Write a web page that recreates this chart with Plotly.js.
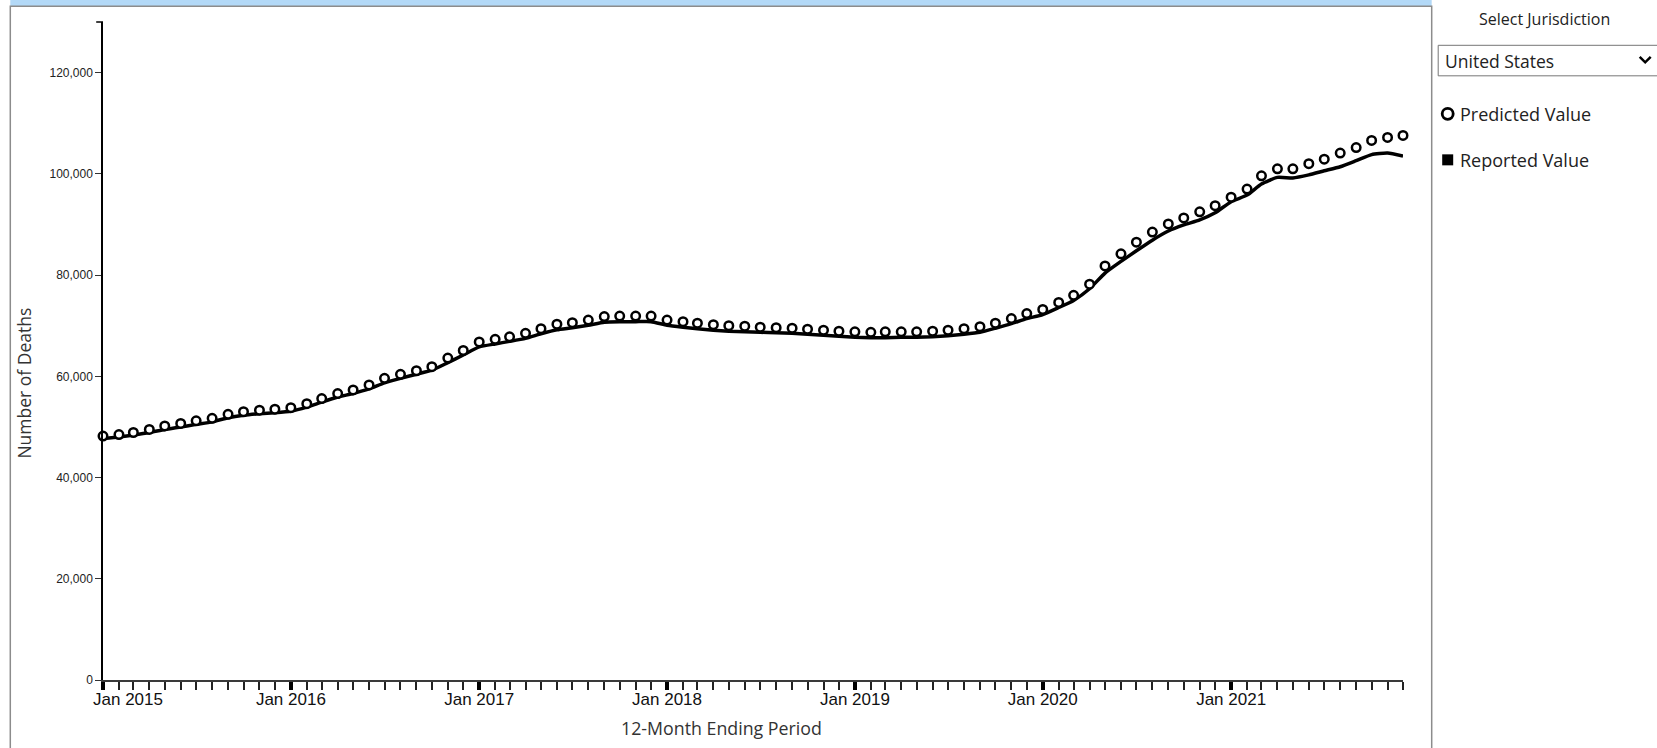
<!DOCTYPE html>
<html>
<head>
<meta charset="utf-8">
<script src="https://cdn.plot.ly/plotly-3.0.1.min.js"></script>
<style>
html,body{margin:0;padding:0;background:#fff;}
#chart{width:1657px;height:748px;}
</style>
</head>
<body>
<div id="chart"></div>
<script>
// 12-month ending periods (Jan 2015 - Dec 2021)
const periods = [
 '2015-01','2015-02','2015-03','2015-04','2015-05','2015-06','2015-07','2015-08','2015-09','2015-10','2015-11','2015-12',
 '2016-01','2016-02','2016-03','2016-04','2016-05','2016-06','2016-07','2016-08','2016-09','2016-10','2016-11','2016-12',
 '2017-01','2017-02','2017-03','2017-04','2017-05','2017-06','2017-07','2017-08','2017-09','2017-10','2017-11','2017-12',
 '2018-01','2018-02','2018-03','2018-04','2018-05','2018-06','2018-07','2018-08','2018-09','2018-10','2018-11','2018-12',
 '2019-01','2019-02','2019-03','2019-04','2019-05','2019-06','2019-07','2019-08','2019-09','2019-10','2019-11','2019-12',
 '2020-01','2020-02','2020-03','2020-04','2020-05','2020-06','2020-07','2020-08','2020-09','2020-10','2020-11','2020-12',
 '2021-01','2021-02','2021-03','2021-04','2021-05','2021-06','2021-07','2021-08','2021-09','2021-10','2021-11','2021-12'
];
// Predicted value (open circles)
const predicted = [
 48200,48500,48900,49500,50200,50700,51200,51700,52500,53000,53300,53500,
 53800,54600,55600,56600,57300,58300,59600,60400,61100,61900,63600,65100,
 66800,67300,67800,68500,69400,70300,70600,71100,71800,71900,71900,71900,
 71100,70800,70500,70200,70000,69900,69700,69600,69500,69300,69100,68900,
 68800,68700,68800,68800,68800,68900,69100,69400,69800,70500,71400,72400,
 73200,74600,76000,78200,81800,84200,86500,88500,90100,91300,92500,93700,
 95400,97000,99600,101000,101000,102000,102900,104100,105200,106600,107200,107600
];
// Reported value (line)
const reported = [
 47700,48000,48400,48900,49500,50000,50500,51000,51800,52300,52600,52800,
 53100,53900,54900,55900,56600,57500,58700,59600,60400,61200,62700,64200,
 65800,66400,66900,67500,68400,69200,69600,70100,70700,70800,70800,70800,
 70100,69700,69400,69100,68900,68800,68700,68600,68500,68300,68100,67900,
 67700,67600,67600,67700,67700,67800,68000,68300,68700,69500,70400,71400,
 72200,73600,75000,77300,80400,82700,84800,86900,88700,89900,90900,92300,
 94500,95800,98000,99300,99200,99800,100600,101400,102600,103800,104100,103500
];
// x tick positions and labels (first label is drawn shifted right, as in the original)
const yearTicks  = ['2015-01','2016-01','2017-01','2018-01','2019-01','2020-01','2021-01'];
const yearLabels = ['Jan 2015','Jan 2016','Jan 2017','Jan 2018','Jan 2019','Jan 2020','Jan 2021'];
const yTicks = [0,20000,40000,60000,80000,100000,120000];
const jurisdiction = 'United States';
const legendLabels = ['Predicted Value','Reported Value'];

// pixel -> paper helpers (plot area: x 103.3..1403.3, y 22.2..680)
const L=103.3, R=1403.3, T=22.2, B=680;
const px = x => (x-L)/(R-L);
const py = y => (B-y)/(B-T);

const font = 'Open Sans, sans-serif';
const tickFont = {family:'Liberation Sans, Arial, sans-serif', size:17, color:'#111'};

const traces = [
 {x: periods, y: reported, type:'scatter', mode:'lines', name: legendLabels[1],
  line:{color:'#000', width:3.5, shape:'spline', smoothing:0.5}, cliponaxis:false, hoverinfo:'x+y'},
 {x: periods, y: predicted, type:'scatter', mode:'markers', name: legendLabels[0],
  marker:{symbol:'circle', size:8.5, color:'#fff', line:{color:'#000', width:2.5}}, cliponaxis:false}
];

const layout = {
 width:1657, height:748,
 margin:{l:L, r:1657-R, t:T, b:748-B, pad:0},
 paper_bgcolor:'#fff', plot_bgcolor:'#fff',
 showlegend:false,
 font:{family:font, color:'#222'},
 xaxis:{
  type:'date', range:['2015-01-01','2021-12-01'],
  showgrid:false, zeroline:false,
  showline:true, linecolor:'#3a3a3a', linewidth:2,
  ticks:'outside', ticklen:8, tickwidth:4, tickcolor:'#000',
  tickmode:'array', tickvals:yearTicks, ticktext:[''].concat(yearLabels.slice(1)),
  tickfont:tickFont, ticklabelstandoff:-5,
  minor:{dtick:'M1', tick0:'2015-01-01', ticks:'outside', ticklen:8, tickwidth:1.5, tickcolor:'#222', showgrid:false},
  fixedrange:true
 },
 yaxis:{
  range:[0,130000], showgrid:false, zeroline:false,
  showline:true, linecolor:'#000', linewidth:1.5,
  ticks:'outside', ticklen:6, tickwidth:1, tickcolor:'#333',
  tickvals:yTicks, tickformat:',d',
  tickfont:{family:'Liberation Sans, Arial, sans-serif', size:12, color:'#222'},
  fixedrange:true
 },
 shapes:[
  {type:'rect', xref:'paper', yref:'paper', x0:px(10.6), x1:px(1432), y0:py(-10), y1:py(6.5), fillcolor:'#b3d9f7', line:{width:0}, layer:'below'},
  {type:'rect', xref:'paper', yref:'paper', x0:px(10.6), x1:px(1432), y0:py(800), y1:py(6.5), line:{color:'#8c8c8c', width:1.5}, layer:'below'},
  {type:'line', xref:'paper', yref:'paper', x0:px(96.5), x1:px(103.3), y0:1, y1:1, line:{color:'#000', width:1.5}},
  {type:'rect', xref:'paper', yref:'paper', x0:px(1438.5), x1:px(1672), y0:py(76), y1:py(45.5), fillcolor:'#fff', line:{color:'#767676', width:1}},
  {type:'path', xref:'paper', yref:'paper',
   path:'M '+px(1640)+','+py(57)+' L '+px(1645.5)+','+py(62.5)+' L '+px(1651)+','+py(57),
   line:{color:'#000', width:2.5}},
  {type:'circle', xref:'paper', yref:'paper', x0:px(1442.5), x1:px(1453.5), y0:py(119.5), y1:py(108.5), line:{color:'#000', width:2.8}, fillcolor:'#fff'},
  {type:'rect', xref:'paper', yref:'paper', x0:px(1442.5), x1:px(1453.5), y0:py(165.5), y1:py(154.5), line:{width:0}, fillcolor:'#000'}
 ],
 annotations:[
  {text:yearLabels[0], xref:'paper', yref:'paper', x:px(91), y:py(688), showarrow:false, xanchor:'left', yanchor:'top', font:tickFont},
  {text:'Number of Deaths', xref:'paper', yref:'paper', x:px(24), y:py(383), textangle:-90, showarrow:false, xanchor:'center', yanchor:'middle', font:{family:font, size:17.5, color:'#333'}},
  {text:'12-Month Ending Period', xref:'paper', yref:'paper', x:px(722), y:py(728), showarrow:false, xanchor:'center', yanchor:'middle', font:{family:font, size:17.8, color:'#333'}},
  {text:'Select Jurisdiction', xref:'paper', yref:'paper', x:px(1545), y:py(19), showarrow:false, xanchor:'center', yanchor:'middle', font:{family:font, size:16, color:'#222'}},
  {text:jurisdiction, xref:'paper', yref:'paper', x:px(1443), y:py(61), showarrow:false, xanchor:'left', yanchor:'middle', font:{family:font, size:17.5, color:'#222'}},
  {text:legendLabels[0], xref:'paper', yref:'paper', x:px(1458), y:py(114), showarrow:false, xanchor:'left', yanchor:'middle', font:{family:font, size:18, color:'#222'}},
  {text:legendLabels[1], xref:'paper', yref:'paper', x:px(1458), y:py(160), showarrow:false, xanchor:'left', yanchor:'middle', font:{family:font, size:18, color:'#222'}}
 ]
};

Plotly.newPlot('chart', traces, layout, {displayModeBar:false, responsive:false});
</script>
</body>
</html>
